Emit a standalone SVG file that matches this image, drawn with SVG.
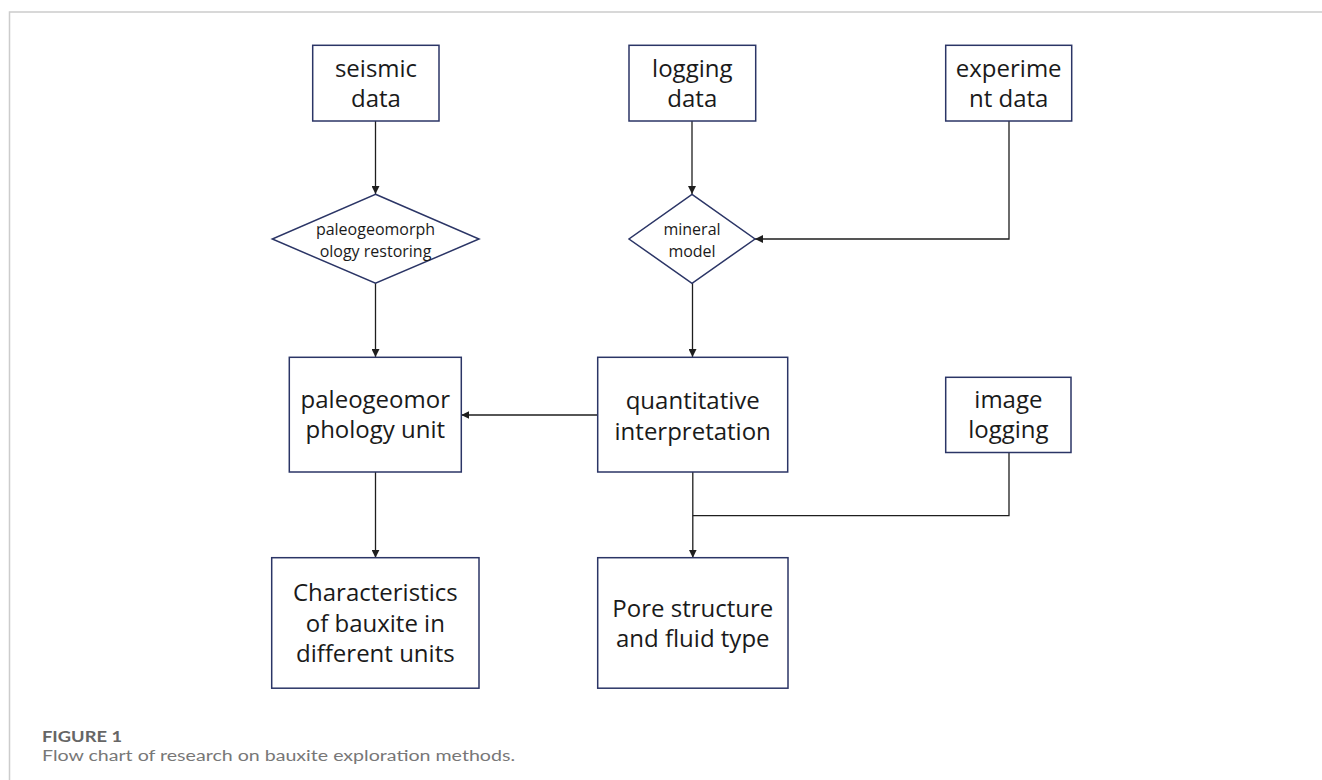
<svg xmlns="http://www.w3.org/2000/svg" width="1322" height="780" viewBox="0 0 1322 780">
  <style>
    .box { fill: #ffffff; stroke: #2b3566; stroke-width: 1.5; }
    .conn { fill: none; stroke: #1e1e1e; stroke-width: 1.3; }
    .t { font-family: "Open Sans", "Noto Sans", sans-serif; font-size: 24px; fill: #1a1a1a; text-anchor: middle; }
    .ts { font-family: "Open Sans", "Noto Sans", sans-serif; font-size: 16px; fill: #1a1a1a; text-anchor: middle; }
    .cap1 { font-family: Lato, "Open Sans", sans-serif; font-size: 16px; font-weight: bold; fill: #666666; }
    .cap2 { font-family: Lato, "Open Sans", sans-serif; font-size: 15.5px; fill: #777777; }
  </style>
  <defs>
    <marker id="arr" viewBox="0 0 10 10" refX="10" refY="5" markerWidth="8" markerHeight="8" markerUnits="userSpaceOnUse" orient="auto">
      <path d="M0,0 L10,5 L0,10 z" fill="#1e1e1e"/>
    </marker>
  </defs>
  <rect width="1322" height="780" fill="#ffffff"/>
  <path d="M9.5,780 L9.5,12 L1322,12" fill="none" stroke="#cccccc" stroke-width="1.5"/>

  <g id="connectors">
    <line class="conn" x1="375.5" y1="121" x2="375.5" y2="194" marker-end="url(#arr)"/>
    <line class="conn" x1="692" y1="121" x2="692" y2="194" marker-end="url(#arr)"/>
    <polyline class="conn" points="1009,121 1009,239 755,239" marker-end="url(#arr)"/>
    <line class="conn" x1="375.5" y1="283" x2="375.5" y2="357" marker-end="url(#arr)"/>
    <line class="conn" x1="692.5" y1="283" x2="692.5" y2="357" marker-end="url(#arr)"/>
    <line class="conn" x1="597.7" y1="415" x2="461.3" y2="415" marker-end="url(#arr)"/>
    <line class="conn" x1="375.5" y1="472" x2="375.5" y2="557.7" marker-end="url(#arr)"/>
    <line class="conn" x1="692.8" y1="472" x2="692.8" y2="557.7" marker-end="url(#arr)"/>
    <polyline class="conn" points="1009,452.5 1009,515.7 692.8,515.7"/>
  </g>

  <g id="seismic">
    <rect class="box" x="312.7" y="45.3" width="126.3" height="75.7"/>
    <text class="t" x="376" y="76.7">seismic</text>
    <text class="t" x="376" y="106.7">data</text>
  </g>
  <g id="logging">
    <rect class="box" x="629" y="45.3" width="126.7" height="75.7"/>
    <text class="t" x="692.3" y="76.7">logging</text>
    <text class="t" x="692.3" y="106.7">data</text>
  </g>
  <g id="experiment">
    <rect class="box" x="945.7" y="45.3" width="126" height="75.7"/>
    <text class="t" x="1008.7" y="76.7">experime</text>
    <text class="t" x="1008.7" y="106.7">nt data</text>
  </g>
  <g id="restoring">
    <polygon class="box" points="375.5,194.3 479,239 375.5,283.3 272.3,239"/>
    <text class="ts" x="375.5" y="235">paleogeomorph</text>
    <text class="ts" x="375.5" y="257">ology restoring</text>
  </g>
  <g id="mineral">
    <polygon class="box" points="692,194.3 755,239 692,283.3 629,239"/>
    <text class="ts" x="692" y="235">mineral</text>
    <text class="ts" x="692" y="257">model</text>
  </g>
  <g id="unit">
    <rect class="box" x="289.3" y="357.3" width="172" height="114.7"/>
    <text class="t" x="375.3" y="407.5">paleogeomor</text>
    <text class="t" x="375.3" y="437.5">phology unit</text>
  </g>
  <g id="quantitative">
    <rect class="box" x="597.7" y="357.3" width="190" height="114.7"/>
    <text class="t" x="692.7" y="409">quantitative</text>
    <text class="t" x="692.7" y="440">interpretation</text>
  </g>
  <g id="image">
    <rect class="box" x="945.7" y="377.3" width="125.3" height="75.2"/>
    <text class="t" x="1008.4" y="407.5">image</text>
    <text class="t" x="1008.4" y="437.5">logging</text>
  </g>
  <g id="characteristics">
    <rect class="box" x="271.7" y="557.7" width="207.3" height="130.5"/>
    <text class="t" x="375.3" y="601">Characteristics</text>
    <text class="t" x="375.3" y="631.5">of bauxite in</text>
    <text class="t" x="375.3" y="662">different units</text>
  </g>
  <g id="pore">
    <rect class="box" x="597.7" y="557.7" width="190.3" height="130.5"/>
    <text class="t" x="692.8" y="616.7">Pore structure</text>
    <text class="t" x="692.8" y="646.7">and fluid type</text>
  </g>

  <g id="caption">
    <text class="cap1" x="42" y="742" textLength="80" lengthAdjust="spacingAndGlyphs">FIGURE 1</text>
    <text class="cap2" x="42" y="761" textLength="473" lengthAdjust="spacingAndGlyphs">Flow chart of research on bauxite exploration methods.</text>
  </g>
</svg>
